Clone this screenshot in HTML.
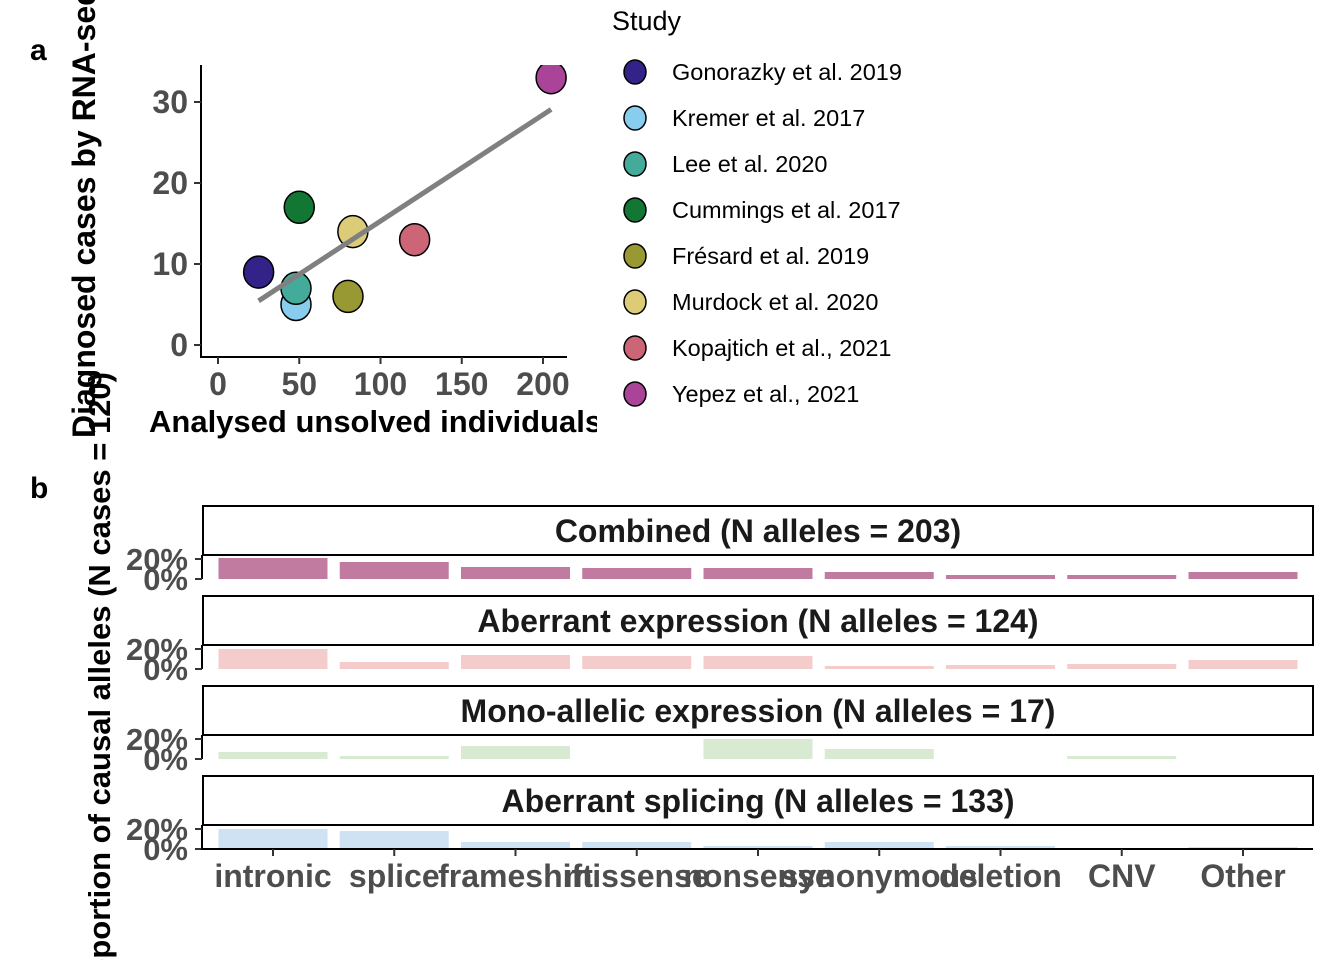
<!DOCTYPE html>
<html><head><meta charset="utf-8"><style>
html,body{margin:0;background:#fff;width:1344px;height:960px;overflow:hidden;}
svg{display:block;font-family:"Liberation Sans",sans-serif;overflow:hidden;}
</style></head><body>
<svg id="fig" width="1344" height="960" viewBox="0 0 1344 960">
<defs><clipPath id="clipA"><rect x="201" y="65" width="370" height="292"/></clipPath>
<clipPath id="clipAll"><rect x="0" y="0" width="1344" height="960"/></clipPath></defs>
<g clip-path="url(#clipAll)">
<text x="30" y="60" font-size="30" font-weight="bold">a</text>
<text x="30" y="498" font-size="30" font-weight="bold">b</text>
<g id="panelA"></g>
<g id="legend"></g>
<g id="panelB"></g>
<text transform="translate(95,438) rotate(-90)" font-size="32" font-weight="bold">Diagnosed cases by RNA-seq</text>
<text transform="translate(110,372) rotate(-90)" font-size="31" font-weight="bold" text-anchor="end">Proportion of causal alleles (N cases = 120)</text>
</g>
</svg>
<script>
const studies=["Gonorazky et al. 2019","Kremer et al. 2017","Lee et al. 2020","Cummings et al. 2017","Frésard et al. 2019","Murdock et al. 2020","Kopajtich et al., 2021","Yepez et al., 2021"];
const analysed=[25,48,48,50,80,83,121,205];
const diagnosed=[9,5,7,17,6,14,13,33];
const studyColors=["#332288","#88CCEE","#44AA99","#117733","#999933","#DDCC77","#CC6677","#AA4499"];
const xTicksA=[0,50,100,150,200];
const yTicksA=[0,10,20,30];
const categories=["intronic","splice","frameshift","missense","nonsense","synonymous","deletion","CNV","Other"];
const facetTitles=["Combined (N alleles = 203)","Aberrant expression (N alleles = 124)","Mono-allelic expression (N alleles = 17)","Aberrant splicing (N alleles = 133)"];
const combinedVals=[21,17,12,11,11,7,4,4,7];
const aeVals=[20,7,14,13,13,3,4,5,9];
const maeVals=[7,3,13,0,20,10,0,3,0];
const asVals=[20,18,7,7,3,7,3,0.5,2];
const facetVals=[combinedVals,aeVals,maeVals,asVals];
const facetColors=["#C27BA0","#F4CCCC","#D9EAD3","#CFE2F3"];
const yTicksB=[0,20];

const NS="http://www.w3.org/2000/svg";
function mk(tag,attrs,parent,text){const e=document.createElementNS(NS,tag);for(const k in attrs)e.setAttribute(k,attrs[k]);if(text!==undefined)e.textContent=text;parent.appendChild(e);return e;}
const xA=v=>218+v*1.625, yA=v=>345-v*8.1;
const A=document.getElementById('panelA');
let ax=mk('line',{x1:201,y1:65,x2:201,y2:358,stroke:'#000','stroke-width':2},A);


ax=mk('line',{x1:200,y1:357,x2:567,y2:357,stroke:'#000','stroke-width':2},A);


xTicksA.forEach(t=>{mk('line',{x1:xA(t),y1:357,x2:xA(t),y2:364,stroke:'#333','stroke-width':2},A);
 const tl=mk('text',{x:xA(t),y:395,'font-size':32,'font-weight':'bold',fill:'#4d4d4d','text-anchor':'middle'},A,t);
 
 });
yTicksA.forEach(t=>{mk('line',{x1:194,y1:yA(t),x2:201,y2:yA(t),stroke:'#333','stroke-width':2},A);
 const tl=mk('text',{x:188,y:yA(t)+11,'font-size':32,'font-weight':'bold',fill:'#4d4d4d','text-anchor':'end'},A,t);
 
 });
const xt=mk('text',{x:149,y:432,'font-size':31,'font-weight':'bold'},A,"Analysed unsolved individuals");


mk('rect',{x:597,y:395,width:15,height:50,fill:'#fff'},A);
const n=analysed.length;const mx=analysed.reduce((a,b)=>a+b)/n,my=diagnosed.reduce((a,b)=>a+b)/n;
let sxy=0,sxx=0;for(let i=0;i<n;i++){sxy+=(analysed[i]-mx)*(diagnosed[i]-my);sxx+=(analysed[i]-mx)**2;}
const sl=sxy/sxx,ic=my-sl*mx;const x0=Math.min(...analysed),x1=Math.max(...analysed);
const g=mk('g',{'clip-path':'url(#clipA)'},A);
const rl=mk('line',{x1:xA(x0),y1:yA(ic+sl*x0),x2:xA(x1),y2:yA(ic+sl*x1),stroke:'#808080','stroke-width':5},g);


for(let i=0;i<n;i++){const p=mk('ellipse',{cx:xA(analysed[i]),cy:yA(diagnosed[i]),rx:15,ry:16,fill:studyColors[i],stroke:'#000','stroke-width':1.5},g);
 
 }
g.appendChild(rl);
const L=document.getElementById('legend');
const lt=mk('text',{x:612,y:30,'font-size':27},L,"Study");


studies.forEach((s,i)=>{const y=72+i*46;
 const e=mk('g',{},L);
 
 
 mk('ellipse',{cx:635,cy:y,rx:11,ry:12,fill:studyColors[i],stroke:'#000','stroke-width':1.5},e);
 mk('text',{x:672,y:y+8,'font-size':23.5},e,s);});
const B=document.getElementById('panelB');
const step=121.25;
const xB=i=>273+step*i;
const bw=109;
const stripTop=[506,596,686,776];
facetTitles.forEach((ft,f)=>{
 const st=stripTop[f];const base=st+73;const yB=v=>base-v*1.0;
 const s=mk('rect',{x:203,y:st,width:1110,height:49,fill:'#fff',stroke:'#000','stroke-width':2},B);
 
 
 const t=mk('text',{x:758,y:st+36,'font-size':32,'font-weight':'bold',fill:'#1a1a1a','text-anchor':'middle'},B,ft);
 
 
 mk('line',{x1:202,y1:st+49,x2:202,y2:base+(f==3?1:0),stroke:'#000','stroke-width':2},B);
 yTicksB.forEach(v=>{mk('line',{x1:195,y1:yB(v),x2:202,y2:yB(v),stroke:'#333','stroke-width':2},B);
  const tl=mk('text',{x:188,y:yB(v)+11,'font-size':31,'font-weight':'bold',fill:'#4d4d4d','text-anchor':'end'},B,v+"%");
  
  });
 facetVals[f].forEach((v,i)=>{if(v<=0)return;
  const r=mk('rect',{x:xB(i)-bw/2,y:yB(v),width:bw,height:base-yB(v),fill:facetColors[f]},B);
  
  });
});
mk('line',{x1:201,y1:849,x2:1313,y2:849,stroke:'#000','stroke-width':2},B);
categories.forEach((c,i)=>{mk('line',{x1:xB(i),y1:849,x2:xB(i),y2:856,stroke:'#333','stroke-width':2},B);
 const tl=mk('text',{x:xB(i),y:887,'font-size':32,'font-weight':'bold',fill:'#4d4d4d','text-anchor':'middle'},B,c);
 
 });
</script>
</body></html>
